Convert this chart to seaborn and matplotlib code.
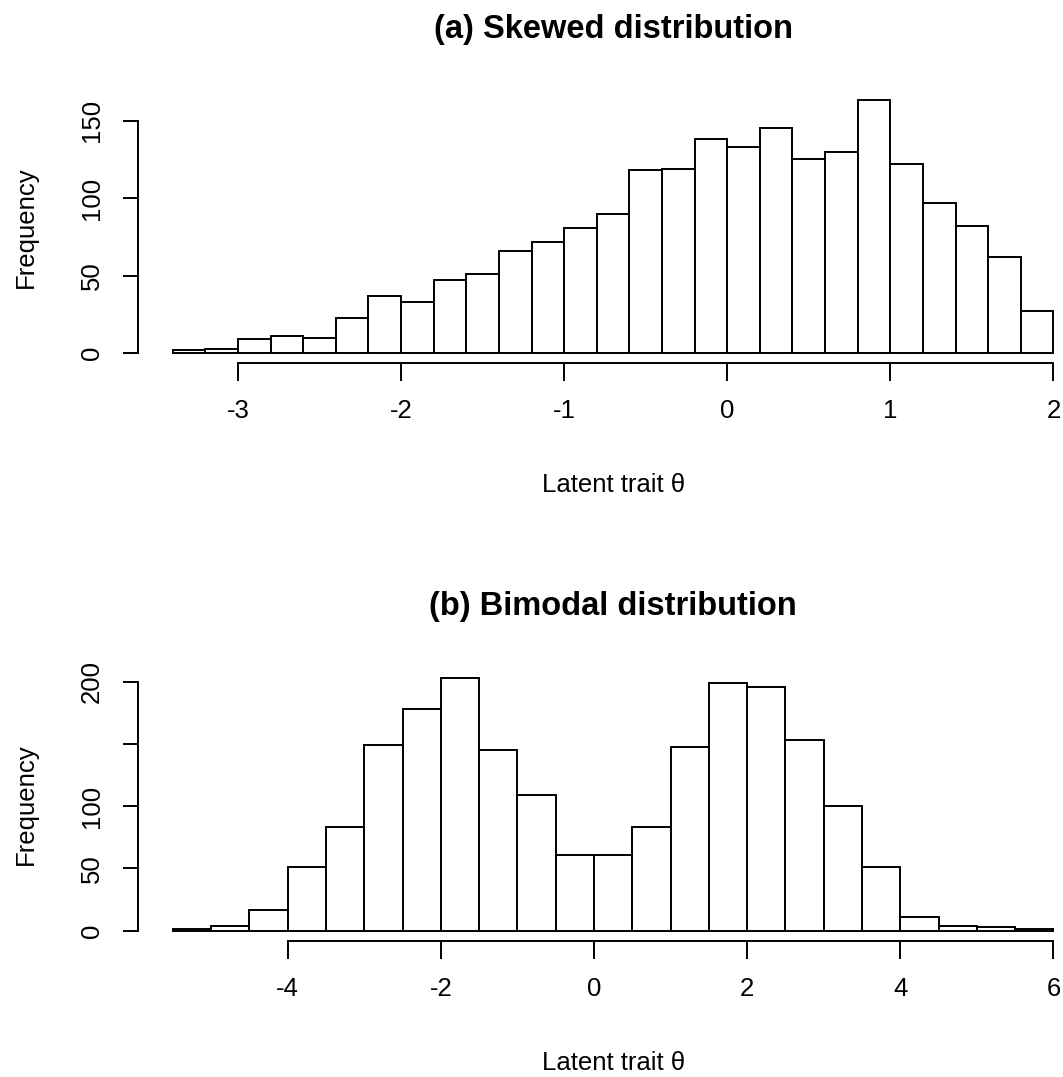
import numpy as np
import pandas as pd
import matplotlib
matplotlib.use('Agg')
import matplotlib.pyplot as plt
import seaborn as sns

# bin edges and counts
skew_edges = np.round(np.arange(-3.4, 2.01, 0.2), 1)
skew_counts = [2, 3, 9, 11, 10, 23, 37, 33, 47, 51, 66, 72, 81, 90,
               118, 119, 138, 133, 145, 125, 130, 163, 122, 97, 82, 62, 27]

bimodal_edges = np.round(np.arange(-5.5, 6.01, 0.5), 1)
bimodal_counts = [1, 4, 17, 51, 83, 149, 178, 203, 145, 109, 61, 61,
                  83, 148, 199, 196, 153, 100, 51, 11, 4, 3, 1]

skew_xticks = [-3, -2, -1, 0, 1, 2]
skew_yticks = [0, 50, 100, 150]
bimodal_xticks = [-4, -2, 0, 2, 4, 6]
bimodal_yticks = [0, 50, 100, 150, 200]
bimodal_ylabels = ['0', '50', '100', '', '200']

sns.set_style('ticks')
plt.rcParams['font.family'] = ['Liberation Sans', 'DejaVu Sans']
plt.rcParams['text.color'] = 'black'
plt.rcParams['axes.labelcolor'] = 'black'
plt.rcParams['xtick.color'] = 'black'
plt.rcParams['ytick.color'] = 'black'


def r_hist(ax, edges, counts, xticks, yticks, ylabels, title):
    '''
    Draw a base-R looking histogram from binned counts.
    '''
    df = pd.DataFrame({'theta': (edges[:-1] + edges[1:]) / 2,
                       'n': np.asarray(counts, dtype=float)})
    sns.histplot(data=df, x='theta', weights='n', bins=list(edges), stat='count',
                 color='white', edgecolor='black', linewidth=1.4, alpha=1, ax=ax)
    # R style 4% padding around data
    xr = edges[-1] - edges[0]
    ax.set_xlim(edges[0] - 0.04 * xr, edges[-1] + 0.04 * xr)
    ymax = max(counts)
    ax.set_ylim(-0.04 * ymax, ymax * 1.04)

    ax.set_xticks(xticks)
    ax.set_xticklabels([str(t) for t in xticks])
    ax.set_yticks(yticks)
    ax.set_yticklabels(ylabels, rotation=90, va='center')
    ax.spines['top'].set_visible(False)
    ax.spines['right'].set_visible(False)
    ax.spines['bottom'].set_bounds(xticks[0], xticks[-1])
    ax.spines['left'].set_bounds(yticks[0], yticks[-1])
    for s in ['bottom', 'left']:
        ax.spines[s].set_linewidth(1.4)
        ax.spines[s].set_color('black')
    ax.tick_params(axis='x', length=13, width=1.4, pad=13, labelsize=18.5)
    ax.tick_params(axis='y', length=11, width=1.4, pad=13.5, labelsize=18.5)

    ax.set_title(title, fontsize=23.5, fontweight='bold', pad=38)
    ax.set_xlabel('Latent trait θ', fontsize=18.5, labelpad=36)
    ax.set_ylabel('Frequency', fontsize=18.5, labelpad=30)


fig = plt.figure(figsize=(10.63, 10.77), dpi=100)
ax1 = fig.add_axes([0.1294, 0.6626, 0.8947, 0.2535])
ax2 = fig.add_axes([0.1294, 0.1265, 0.8947, 0.2531])

r_hist(ax1, skew_edges, skew_counts, skew_xticks, skew_yticks,
       [str(t) for t in skew_yticks], '(a) Skewed distribution')
r_hist(ax2, bimodal_edges, bimodal_counts, bimodal_xticks, bimodal_yticks,
       bimodal_ylabels, '(b) Bimodal distribution')

fig.savefig('out.png', dpi=100)
